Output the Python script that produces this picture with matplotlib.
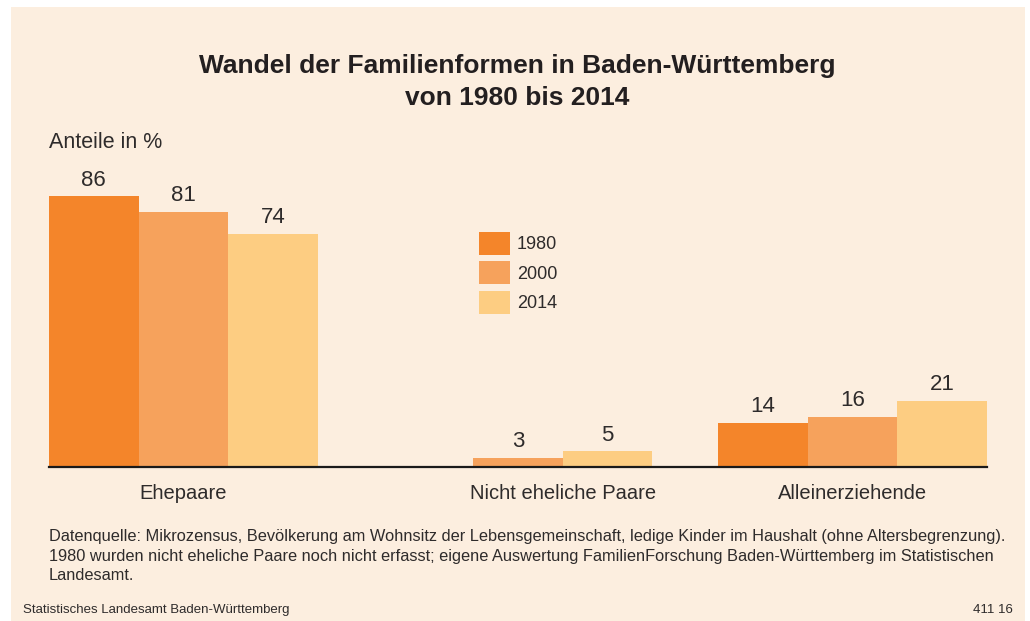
import matplotlib
matplotlib.use("Agg")
import matplotlib.pyplot as plt
from matplotlib.patches import Rectangle, Patch
import numpy as np

plt.rcParams['font.family'] = ['Liberation Sans', 'DejaVu Sans']

categories = ["Ehepaare", "Nicht eheliche Paare", "Alleinerziehende"]
years = ["1980", "2000", "2014"]
values_1980 = [86, None, 14]
values_2000 = [81, 3, 16]
values_2014 = [74, 5, 21]
colors = ["#F4852A", "#F6A25C", "#FDCD82"]

title = "Wandel der Familienformen in Baden-Württemberg\nvon 1980 bis 2014"
ylabel = "Anteile in %"
footnote = ("Datenquelle: Mikrozensus, Bevölkerung am Wohnsitz der Lebensgemeinschaft, ledige Kinder im Haushalt (ohne Altersbegrenzung).\n"
            "1980 wurden nicht eheliche Paare noch nicht erfasst; eigene Auswertung FamilienForschung Baden-Württemberg im Statistischen\n"
            "Landesamt.")
source = "Statistisches Landesamt Baden-Württemberg"
code = "411 16"

W, H = 1030, 621
bg = "#FCEEDF"
txt = "#2E2B2B"

fig = plt.figure(figsize=(W/100, H/100), dpi=100)
fig.patch.set_facecolor("white")
fig.patches.append(Rectangle((11/W, 0), (1025-11)/W, (H-7)/H, transform=fig.transFigure,
                             facecolor=bg, edgecolor="none", zorder=-5))

ax_left, ax_right = 49, 987
ax_bottom_px, ax_top_px = 467, 152
ax = fig.add_axes([ax_left/W, (H-ax_bottom_px)/H, (ax_right-ax_left)/W, (ax_bottom_px-ax_top_px)/H])
ax.set_facecolor("none")
ax.set_zorder(2)

bw = 89.5/334.5
x = np.arange(len(categories))
series = [values_1980, values_2000, values_2014]
for i, (vals, col, yr) in enumerate(zip(series, colors, years)):
    for j, v in enumerate(vals):
        if v is None:
            continue
        xpos = x[j] + (i-1)*bw
        ax.bar(xpos, v, width=bw, color=col, edgecolor="none", zorder=2)
        ax.annotate(f"{v}", (xpos, v), xytext=(0, 4), textcoords="offset points",
                    ha="center", va="bottom", fontsize=16, color=txt)

half = 1.5*bw
ax.set_xlim(-half, len(categories)-1+half)
ax.set_ylim(0, 100)
for s in ["top", "right", "left"]:
    ax.spines[s].set_visible(False)
ax.spines["bottom"].set_linewidth(1.6)
ax.spines["bottom"].set_color("#1A1A1A")
ax.spines["bottom"].set_zorder(3)
ax.set_yticks([])
label_pos = []
for j in range(len(categories)):
    present = [x[j] + (i-1)*bw for i, s in enumerate(series) if s[j] is not None]
    label_pos.append((min(present) + max(present))/2)
ax.set_xticks(label_pos)
ax.set_xticklabels(categories, fontsize=14.5, color=txt)
ax.tick_params(axis="x", length=0, pad=12)

handles = [Patch(facecolor=c, edgecolor="none") for c in colors]
fig.legend(handles, years, loc="upper left", bbox_to_anchor=(479/W, 1-232/H),
           frameon=False, fontsize=13, handlelength=1.72, handleheight=1.55,
           labelspacing=0.38, handletextpad=0.39, borderaxespad=0, borderpad=0,
           labelcolor=txt)

fig.text(517/W, 1-82/H, title, ha="center", va="center", fontsize=19,
         fontweight="bold", color="#231F20", linespacing=1.45)
fig.text(49/W, 1-143/H, ylabel, ha="left", va="center", fontsize=15.5, color=txt)
fig.text(49/W, 1-556/H, footnote, ha="left", va="center", fontsize=11.8,
         color=txt, linespacing=1.37)
fig.text(23/W, 1-610/H, source, ha="left", va="center", fontsize=9.5, color=txt)
fig.text(1013/W, 1-610/H, code, ha="right", va="center", fontsize=9.5, color=txt)

fig.savefig("out.png", dpi=100, facecolor=fig.get_facecolor())
